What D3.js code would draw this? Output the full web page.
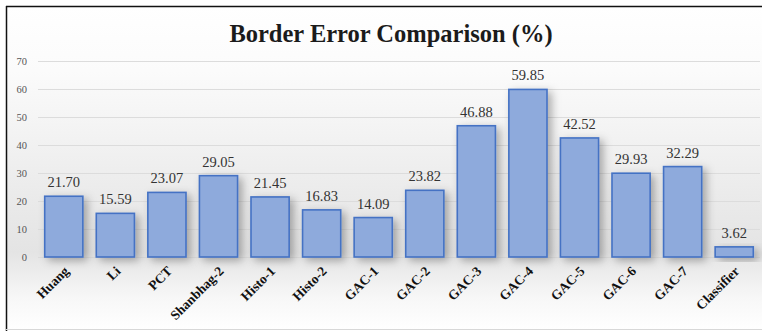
<!DOCTYPE html>
<html>
<head>
<meta charset="utf-8">
<script src="https://cdn.jsdelivr.net/npm/d3@7"></script>
<style>
  html, body { margin: 0; padding: 0; background: #fff; }
  svg { display: block; }
</style>
</head>
<body>
<svg id="chart" width="762" height="331"></svg>
<script>
const categories = ["Huang", "Li", "PCT", "Shanbhag-2", "Histo-1", "Histo-2", "GAC-1",
  "GAC-2", "GAC-3", "GAC-4", "GAC-5", "GAC-6", "GAC-7", "Classifier"];
const values = [21.70, 15.59, 23.07, 29.05, 21.45, 16.83, 14.09,
  23.82, 46.88, 59.85, 42.52, 29.93, 32.29, 3.62];
const yTicks = [0, 10, 20, 30, 40, 50, 60, 70];
const titleText = "Border Error Comparison (%)";

const W = 762, H = 331;
const margin = { left: 38, right: 2, top: 61, bottom: 74 };
const serif = "'Liberation Serif', 'Times New Roman', serif";
const svg = d3.select("#chart");
const defs = svg.append("defs");

// chart-area background: white top, soft grey band near the baseline, white again at the bottom
const bg = defs.append("linearGradient").attr("id", "bg").attr("x1", 0).attr("y1", 0).attr("x2", 0).attr("y2", 1);
[[0, "#ffffff"], [0.2, "#fbfbfb"], [0.6, "#eaeaea"], [0.76, "#e4e4e4"], [0.9, "#f7f7f7"], [1, "#ffffff"]]
  .forEach(([o, c]) => bg.append("stop").attr("offset", o).attr("stop-color", c));

const shadow = defs.append("filter").attr("id", "shadow")
  .attr("x", "-30%").attr("y", "-30%").attr("width", "170%").attr("height", "170%");
shadow.append("feDropShadow").attr("dx", 4).attr("dy", 3).attr("stdDeviation", 4)
  .attr("flood-color", "#000").attr("flood-opacity", 0.3);

svg.append("rect").attr("x", 6).attr("y", 6).attr("width", W - 6).attr("height", H - 7)
  .attr("fill", "url(#bg)");
// frame
svg.append("line").attr("x1", 6).attr("x2", W).attr("y1", 6.5).attr("y2", 6.5)
  .attr("stroke", "#111").attr("stroke-width", 1.5);
svg.append("line").attr("x1", 6.5).attr("x2", 6.5).attr("y1", 6).attr("y2", H)
  .attr("stroke", "#111").attr("stroke-width", 1.5);
svg.append("line").attr("x1", 6).attr("x2", W).attr("y1", H - 1.5).attr("y2", H - 1.5)
  .attr("stroke", "#d8d8d8").attr("stroke-width", 1);

const x = d3.scaleBand().domain(categories).range([margin.left, W - margin.right]).paddingInner(0.26).paddingOuter(0.13);
const y = d3.scaleLinear().domain([0, 70]).range([H - margin.bottom, margin.top]);

// title
svg.append("text").attr("x", 391).attr("y", 42).attr("text-anchor", "middle")
  .attr("font-family", serif)
  .attr("font-weight", "bold").attr("font-size", 24.5).attr("fill", "#1b1b1b")
  .text(titleText);

// y axis with gridlines
const yAxis = d3.axisLeft(y).tickValues(yTicks).tickSize(-(W - margin.right - margin.left)).tickPadding(11);
const gy = svg.append("g").attr("transform", `translate(${margin.left},0)`).call(yAxis);
gy.select(".domain").remove();
gy.selectAll(".tick line").attr("stroke", "#dcdcdc").attr("stroke-width", 1.2);
gy.selectAll(".tick text")
  .attr("font-family", serif)
  .attr("font-size", 10.5).attr("fill", "#555");

// bars
svg.append("g").selectAll("rect").data(values).join("rect")
  .attr("x", (d, i) => x(categories[i]))
  .attr("y", d => y(d))
  .attr("width", x.bandwidth())
  .attr("height", d => y(0) - y(d))
  .attr("fill", "#8eaadc")
  .attr("stroke", "#4472c4")
  .attr("stroke-width", 1.6)
  .attr("filter", "url(#shadow)");

// value labels
svg.append("g").selectAll("text").data(values).join("text")
  .attr("x", (d, i) => x(categories[i]) + x.bandwidth() / 2)
  .attr("y", d => y(d) - 9)
  .attr("text-anchor", "middle")
  .attr("font-family", serif)
  .attr("font-size", 14.5).attr("fill", "#333")
  .text(d => d.toFixed(2));

// x axis category labels, rotated
const xAxis = d3.axisBottom(x).tickSize(0).tickPadding(0);
const gx = svg.append("g").attr("transform", `translate(0,${y(0)})`).call(xAxis);
gx.select(".domain").remove();
gx.selectAll(".tick text")
  .attr("font-family", serif)
  .attr("font-weight", "bold").attr("font-size", 13.5).attr("fill", "#111")
  .attr("text-anchor", "end")
  .attr("dy", 0)
  .attr("transform", "translate(6,15) rotate(-45)");
</script>
</body>
</html>
